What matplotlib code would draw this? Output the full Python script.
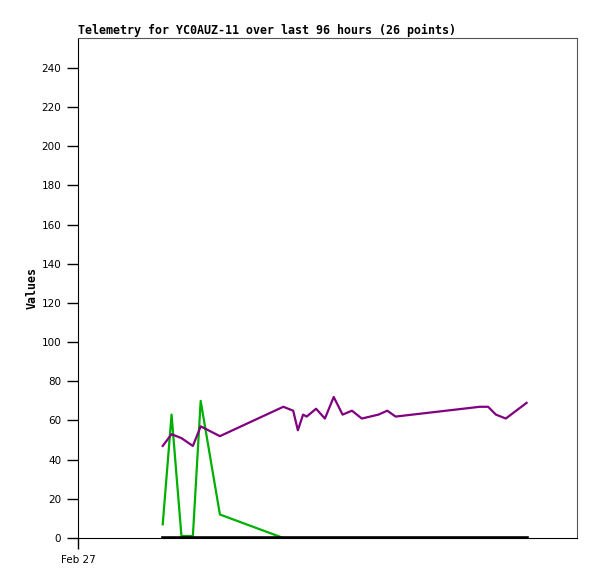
'''Telemetry chart for YC0AUZ-11'''
import matplotlib
matplotlib.use("Agg")
import matplotlib.pyplot as plt

# Hours since the start of the 96 hour window.
hours = [16.3, 18.0, 19.9, 22.1, 23.6, 27.3, 39.5, 41.4, 42.3, 43.3, 44.0,
         45.8, 47.5, 49.2, 50.9, 52.7, 54.6, 57.8, 59.5, 61.1, 77.3, 78.9,
         80.4, 82.3, 86.3]

# Purple series.
purple = [47, 53, 51, 47, 57, 52, 67, 65, 55, 63, 62,
          66, 61, 72, 63, 65, 61, 63, 65, 62, 67, 67,
          63, 61, 69]

# Green series.
green = [7, 63, 1, 1, 70, 12, 0, 0, 0, 0, 0,
         0, 0, 0, 0, 0, 0, 0, 0, 0, 0, 0,
         0, 0, 0]

# Black series, flat at zero.
black = [0] * len(hours)

yTicks = list(range(0, 241, 20))
xTicks = [0]
xTickLabels = ["Feb 27"]

fig = plt.figure(figsize=(5.97, 5.79), dpi=100)
ax = fig.add_axes([78/597, 41/579, 499/597, 500/579])

ax.plot(hours, green, color="#00b000", linewidth=1.6)
ax.plot(hours, black, color="black", linewidth=2.6)
ax.plot(hours, purple, color="#800080", linewidth=1.6)

ax.set_xlim(0, 96)
ax.set_ylim(0, 255.3)
ax.set_yticks(yTicks)
ax.set_xticks(xTicks)
ax.set_xticklabels(xTickLabels)

ax.tick_params(length=8, width=1, labelsize=7.5, colors="black", pad=4)
for lab in ax.get_xticklabels() + ax.get_yticklabels():
    lab.set_family("DejaVu Sans")

ax.spines["left"].set_color("black")
ax.spines["bottom"].set_color("black")
ax.spines["top"].set_color("#555555")
ax.spines["right"].set_color("#555555")

ax.set_title("Telemetry for YC0AUZ-11 over last 96 hours (26 points)",
             family="DejaVu Sans Mono", fontweight="bold", fontsize=8.4,
             loc="left", pad=3)
ax.set_ylabel("Values", family="DejaVu Sans Mono", fontweight="bold",
              fontsize=8.4, labelpad=2)

fig.savefig("out.png", dpi=100)
